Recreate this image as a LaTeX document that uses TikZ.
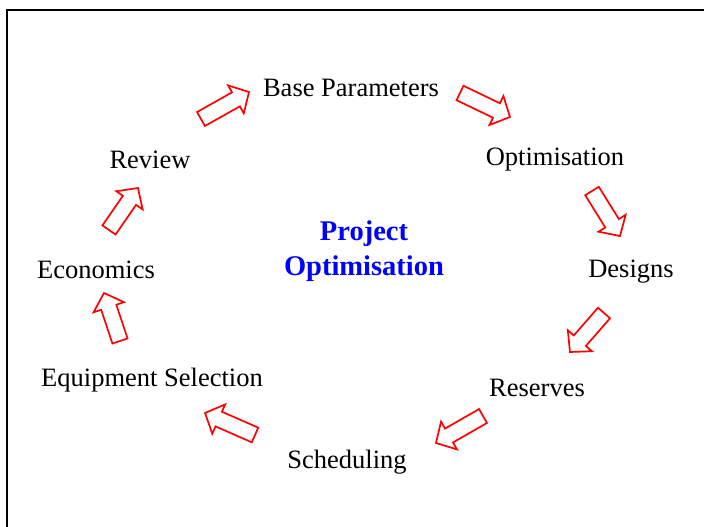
\documentclass[tikz,border=0pt]{standalone}
\usepackage{fontspec}
\setmainfont{Liberation Serif}
\usepackage{tikz}
\usetikzlibrary{positioning,calc}
\usepackage{xcolor}

\tikzset{
  label/.style={inner sep=0pt, font=\fontsize{26.5}{30}\selectfont},
  flowarrow/.style={draw=red, line width=1.7pt, fill=white},
}
% block arrow from coordinate #1 to coordinate #2
\newcommand{\blockarrow}[2]{
  \coordinate (base) at ($(#2)!15pt!(#1)$);
  \draw[flowarrow] ($(#1)!8pt!90:(#2)$) -- ($(base)!8pt!90:(#2)$)
    -- ($(base)!16pt!90:(#2)$) -- (#2) -- ($(base)!16pt!-90:(#2)$)
    -- ($(base)!8pt!-90:(#2)$) -- ($(#1)!8pt!-90:(#2)$) -- cycle;
}

\begin{document}
\begin{tikzpicture}[x=1pt, y=-1pt]
    \useasboundingbox (0,0) rectangle (704,527);

      % Border
      \draw[line width=2pt] (7,527) -- (7,10) -- (704,10);

      % Steps
      \node[label] (base)     at (351, 88)  {Base Parameters};
      \node[label] (optim)    at (555, 160) {Optimisation};
      \node[label] (designs)  at (631, 272) {Designs};
      \node[label] (reserves) at (537, 388) {Reserves};
      \node[label] (sched)    at (347, 462) {Scheduling};
      \node[label] (equip)    at (152, 380) {Equipment Selection};
      \node[label] (econ)     at (96, 270)  {Economics};
      \node[label] (review)   at (150, 160) {Review};

      % Title
      \node[font=\fontsize{28.5}{35}\selectfont\bfseries, text=blue, align=center]
        (title) at (364, 251) {Project\\Optimisation};

      % Arrows
      \coordinate (a1s) at (201, 119); \coordinate (a1e) at (249, 92);
      \coordinate (a2s) at (460, 93);  \coordinate (a2e) at (510, 117);
      \coordinate (a3s) at (592, 191); \coordinate (a3e) at (620, 236);
      \coordinate (a4s) at (604, 313); \coordinate (a4e) at (570, 352);
      \coordinate (a5s) at (483, 416); \coordinate (a5e) at (436, 443);
      \coordinate (a6s) at (255, 435); \coordinate (a6e) at (205, 413);
      \coordinate (a7s) at (120, 341); \coordinate (a7e) at (104, 293);
      \coordinate (a8s) at (109, 230); \coordinate (a8e) at (138, 188);
      \foreach \i in {1,...,8}
        \blockarrow{a\i s}{a\i e};
  \end{tikzpicture}
\end{document}
